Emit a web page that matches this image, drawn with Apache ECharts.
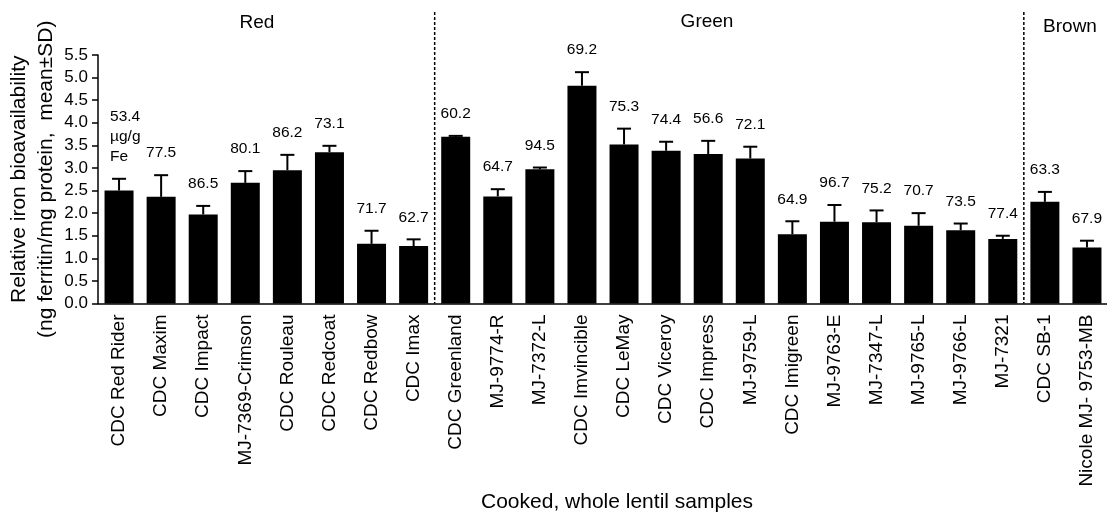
<!DOCTYPE html>
<html>
<head>
<meta charset="utf-8">
<script src="https://cdn.jsdelivr.net/npm/echarts@6/dist/echarts.min.js"></script>
<style>
  html, body { margin: 0; padding: 0; background: #fff; }
  #chart { width: 1107px; height: 512px; }
</style>
</head>
<body>
<div id="chart"></div>
<script>
// Lentil cultivars, in plotting order (red, green, brown market classes)
const samples = [
  'CDC Red Rider', 'CDC Maxim', 'CDC Impact', 'MJ-7369-Crimson', 'CDC Rouleau',
  'CDC Redcoat', 'CDC Redbow', 'CDC Imax',
  'CDC Greenland', 'MJ-9774-R', 'MJ-7372-L', 'CDC Imvincible', 'CDC LeMay',
  'CDC Viceroy', 'CDC Impress', 'MJ-9759-L', 'CDC Imigreen', 'MJ-9763-E',
  'MJ-7347-L', 'MJ-9765-L', 'MJ-9766-L', 'MJ-7321',
  'CDC SB-1', 'Nicole MJ- 9753-MB'
];

// Relative iron bioavailability (ng ferritin/mg protein), mean and SD
const meanValues = [
  2.50, 2.36, 1.97, 2.67, 2.95, 3.35, 1.32, 1.27,
  3.69, 2.37, 2.97, 4.82, 3.52, 3.38, 3.31, 3.21, 1.53, 1.81, 1.80, 1.72, 1.62, 1.43,
  2.25, 1.24
];
const sdValues = [
  0.26, 0.48, 0.19, 0.26, 0.34, 0.14, 0.29, 0.15,
  0.02, 0.16, 0.04, 0.30, 0.35, 0.20, 0.29, 0.26, 0.29, 0.37, 0.26, 0.28, 0.15, 0.07,
  0.22, 0.15
];

// Iron concentration of each sample (µg/g Fe), printed above the bars
const ironContent = [
  53.4, 77.5, 86.5, 80.1, 86.2, 73.1, 71.7, 62.7,
  60.2, 64.7, 94.5, 69.2, 75.3, 74.4, 56.6, 72.1, 64.9, 96.7, 75.2, 70.7, 73.5, 77.4,
  63.3, 67.9
];
const ironUnit = 'µg/g\nFe';   // shown once, under the first value

// Market classes and the category boundaries that separate them
const groupNames = ['Red', 'Green', 'Brown'];
const groupBoundaries = [7.5, 21.5];

const FONT = "'Liberation Sans', Arial, Helvetica, sans-serif";

const chart = echarts.init(document.getElementById('chart'), null, { renderer: 'canvas' });

const option = {
  animation: false,
  backgroundColor: '#fff',
  textStyle: { fontFamily: FONT, color: '#000' },
  grid: {
    left: 98, top: 55, width: 1010, bottom: 208.5,
    containLabel: false, outerBoundsMode: 'none'
  },
  xAxis: [
    {
      type: 'category',
      data: samples,
      boundaryGap: true,
      axisLine: { onZero: false, lineStyle: { color: '#000', width: 1.5 } },
      axisTick: { alignWithLabel: true, length: 7, lineStyle: { color: '#000', width: 1.5 } },
      axisLabel: {
        rotate: 90, interval: 0, margin: 11,
        fontSize: 19, color: '#000', fontFamily: FONT
      },
      splitLine: { show: false }
    },
    {
      // index space used for the class separators
      type: 'value', min: -0.5, max: samples.length - 0.5, show: false,
      axisLine: { onZero: false }
    }
  ],
  yAxis: {
    type: 'value',
    min: 0, max: 5.5, interval: 0.5,
    name: 'Relative iron bioavailability\n(ng ferritin/mg protein,  mean±SD)',
    nameLocation: 'middle',
    nameRotate: 90,
    nameGap: 38,
    nameMoveOverlap: false,
    nameTextStyle: { fontSize: 21, lineHeight: 27, color: '#000', fontFamily: FONT },
    axisLine: { show: true, onZero: false, lineStyle: { color: '#000', width: 1.5 } },
    axisTick: { show: true, length: 6, lineStyle: { color: '#000', width: 1.5 } },
    axisLabel: {
      margin: 10, fontSize: 17, color: '#000', fontFamily: FONT,
      formatter: v => v.toFixed(1)
    },
    splitLine: { show: false }
  },
  graphic: [
    {
      type: 'text', x: 617, y: 502,
      style: {
        text: 'Cooked, whole lentil samples', fill: '#000',
        font: '21px ' + FONT, align: 'center', verticalAlign: 'middle'
      }
    },
    {
      type: 'text', x: 257, y: 23,
      style: { text: groupNames[0], fill: '#000', font: '19px ' + FONT, align: 'center', verticalAlign: 'middle' }
    },
    {
      type: 'text', x: 707, y: 22,
      style: { text: groupNames[1], fill: '#000', font: '19px ' + FONT, align: 'center', verticalAlign: 'middle' }
    },
    {
      type: 'text', x: 1070, y: 27,
      style: { text: groupNames[2], fill: '#000', font: '19px ' + FONT, align: 'center', verticalAlign: 'middle' }
    }
  ],
  series: [
    {
      name: 'Mean',
      type: 'bar',
      data: meanValues,
      barWidth: 29,
      itemStyle: { color: '#000' },
      z: 2
    },
    {
      // upward SD whiskers plus the iron content label above each bar
      name: 'SD',
      type: 'custom',
      xAxisIndex: 0,
      yAxisIndex: 0,
      z: 3,
      data: samples.map((s, i) => [i, meanValues[i], sdValues[i], ironContent[i]]),
      renderItem: function (params, api) {
        const i = api.value(0);
        const mean = api.value(1);
        const sd = api.value(2);
        const base = api.coord([i, mean]);
        const top = api.coord([i, mean + sd]);
        const half = 7;
        const hasUnit = params.dataIndex === 0;
        const label = ironContent[params.dataIndex].toFixed(1) + (hasUnit ? '\n' + ironUnit : '');
        return {
          type: 'group',
          children: [
            {
              type: 'line',
              shape: { x1: top[0], y1: base[1], x2: top[0], y2: top[1] },
              style: { stroke: '#000', lineWidth: 2 }
            },
            {
              type: 'line',
              shape: { x1: top[0] - half, y1: top[1], x2: top[0] + half, y2: top[1] },
              style: { stroke: '#000', lineWidth: 2 }
            },
            {
              type: 'text',
              x: hasUnit ? top[0] - 9 : top[0],
              y: top[1] - 12,
              style: {
                text: label,
                fill: '#000',
                font: '15.5px ' + FONT,
                lineHeight: 20,
                align: hasUnit ? 'left' : 'center',
                verticalAlign: 'bottom'
              }
            }
          ]
        };
      }
    },
    {
      // dashed lines separating the market classes
      name: 'Classes',
      type: 'custom',
      xAxisIndex: 1,
      yAxisIndex: 0,
      z: 4,
      data: groupBoundaries.map(b => [b, 0]),
      renderItem: function (params, api) {
        const p = api.coord([api.value(0), 0]);
        const topY = params.coordSys.y - 43;
        return {
          type: 'line',
          shape: { x1: p[0], y1: topY, x2: p[0], y2: p[1] },
          style: { stroke: '#000', lineWidth: 1.5, lineDash: [3, 2] }
        };
      }
    }
  ]
};

chart.setOption(option);
</script>
</body>
</html>
